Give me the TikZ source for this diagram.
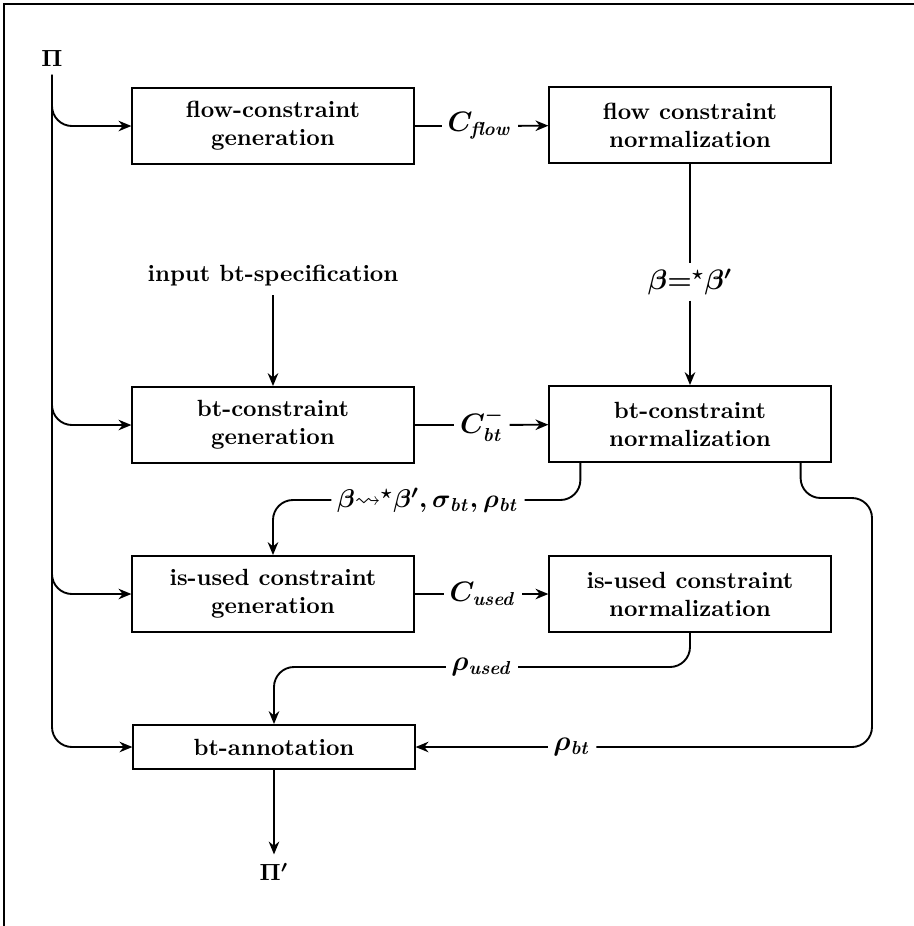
\documentclass[tikz,border=0pt]{standalone}
\usepackage{amsmath,amssymb}
\usepackage{tikz}
\usetikzlibrary{arrows.meta}

\begin{document}
\begin{tikzpicture}[x=0.015cm, y=-0.015cm, thick, >={Stealth[length=5.5pt,width=4.5pt]},
    font=\bfseries\boldmath,
    block/.style={draw, align=center, minimum width=4.22cm, minimum height=1.14cm},
    tag/.style={inner sep=2pt, font=\bfseries\boldmath\large},
    curvy/.style={rounded corners=0.3cm}]
    \useasboundingbox (0,0) rectangle (914,926);
    \draw (914,4) -| (4,926);

    \node (pi) at (52,58) {$\Pi$};
    \node[block] (gflow) at (273,126) {flow-constraint\\generation};
    \node[block] (nflow) at (690,125) {flow constraint\\normalization};
    \node (spec) at (273,276) {input bt-specification};
    \node[block] (gbt) at (273,425) {bt-constraint\\generation};
    \node[block] (nbt) at (690,424) {bt-constraint\\normalization};
    \node[block] (gused) at (273,594) {is-used constraint\\generation};
    \node[block] (nused) at (690,594) {is-used constraint\\normalization};
    \node[block, minimum height=0.66cm] (ann) at (274,747) {bt-annotation};
    \node (piout) at (274,872) {$\Pi'$};

    % labels on the flow lines
    \node[tag] (lflow) at (480,126) {$C_{\mathit{flow}}$};
    \node[tag] (lbeta) at (690,282) {$\beta{=}^{\star}\beta'$};
    \node[tag] (lbt) at (482,425) {$C^{-}_{\mathit{bt}}$};
    \node[tag, font=\bfseries\boldmath\fontsize{11pt}{13pt}\selectfont] (lsig) at (428,500)
        {$\beta{\rightsquigarrow}^{\star}\beta', \sigma_{\mathit{bt}}, \rho_{\mathit{bt}}$};
    \node[tag] (lused) at (483,594) {$C_{\mathit{used}}$};
    \node[tag] (lrused) at (482,667) {$\rho_{\mathit{used}}$};
    \node[tag] (lrbt) at (572,747) {$\rho_{\mathit{bt}}$};
    \coordinate (rturn) at (872,498);

    \draw (gflow) -- (lflow);
    \draw[->] (lflow) -- (nflow);
    \draw (nflow) -- (lbeta);
    \draw[->] (lbeta) -- (nbt);
    \draw[->] (spec) -- (gbt);
    \draw (gbt) -- (lbt);
    \draw[->] (lbt) -- (nbt);
    \draw (gused) -- (lused);
    \draw[->] (lused) -- (nused);

    \draw[curvy] (nbt.south west) ++(32,0) |- (lsig);
    \draw[->, curvy] (lsig) -| (gused);
    \draw[curvy] (nbt.south east) ++(-31,0) |- (rturn) |- (lrbt);
    \draw[->] (lrbt) -- (ann);
    \draw[curvy] (nused) |- (lrused);
    \draw[->, curvy] (lrused) -| (ann);

    % the program feeds every generation step
    \draw[->, curvy] (pi) |- (gflow);
    \draw[->, curvy] (pi) |- (gbt);
    \draw[->, curvy] (pi) |- (gused);
    \draw[->, curvy] (pi) |- (ann);
    \draw[->] (ann) -- (piout);
\end{tikzpicture}
\end{document}
